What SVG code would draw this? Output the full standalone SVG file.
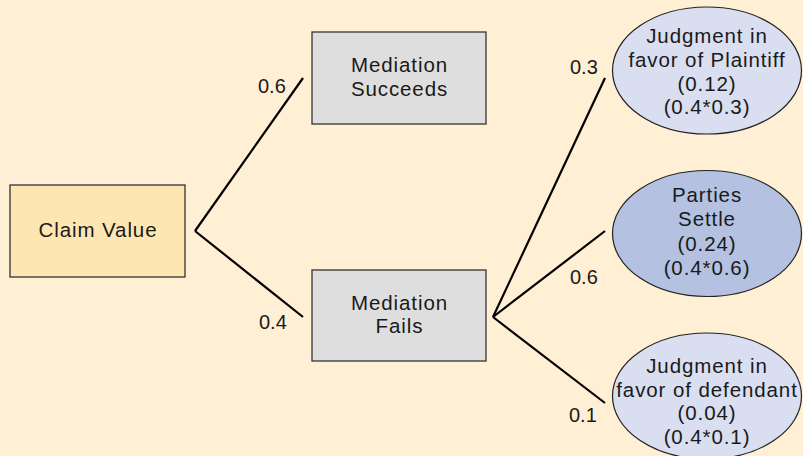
<svg xmlns="http://www.w3.org/2000/svg" width="803" height="456" viewBox="0 0 803 456">
<style>
.t{font-family:"Liberation Sans",Arial,sans-serif;font-size:20.5px;fill:#1a1a1a;letter-spacing:0.9px;text-anchor:middle}
.lbl{font-family:"Liberation Sans",Arial,sans-serif;font-size:20px;fill:#1a1a1a}
.box{stroke:#333;stroke-width:1.3}
.ell{stroke:#222;stroke-width:1.2}
.con line{stroke:#000;stroke-width:2.2;fill:none}
</style>
<rect width="803" height="456" fill="#FEEFD5"/>
<g id="connectors" class="con">
<line x1="195" y1="231" x2="303" y2="78"/>
<line x1="195" y1="231" x2="303" y2="317"/>
<line x1="493" y1="317" x2="605" y2="78"/>
<line x1="493" y1="317" x2="605" y2="231"/>
<line x1="493" y1="317" x2="605" y2="403"/>
</g>
<g id="labels">
<text class="lbl" x="258" y="93">0.6</text>
<text class="lbl" x="259" y="329">0.4</text>
<text class="lbl" x="570" y="74">0.3</text>
<text class="lbl" x="570" y="284">0.6</text>
<text class="lbl" x="569" y="422">0.1</text>
</g>
<g id="claim">
<rect class="box" x="10" y="185" width="175" height="92" fill="#FDE6B2"/>
<text class="t" x="98" y="237">Claim Value</text>
</g>
<g id="succeeds">
<rect class="box" x="312" y="32" width="174" height="92" fill="#DEDEDE"/>
<text class="t" x="399.5" y="72">Mediation</text>
<text class="t" x="399.5" y="96">Succeeds</text>
</g>
<g id="fails">
<rect class="box" x="312" y="270" width="174" height="91" fill="#DEDEDE"/>
<text class="t" x="399.5" y="310">Mediation</text>
<text class="t" x="399.5" y="333">Fails</text>
</g>
<g id="plaintiff">
<ellipse class="ell" cx="707" cy="70.5" rx="94.5" ry="63.5" fill="#D9DEF0"/>
<text class="t" x="707" y="43">Judgment in</text>
<text class="t" x="707" y="66.5">favor of Plaintiff</text>
<text class="t" x="707" y="90.5">(0.12)</text>
<text class="t" x="707" y="114">(0.4*0.3)</text>
</g>
<g id="settle">
<ellipse class="ell" cx="707" cy="233.5" rx="94.5" ry="63" fill="#B4C1E1"/>
<text class="t" x="707" y="202">Parties</text>
<text class="t" x="707" y="226">Settle</text>
<text class="t" x="707" y="250.5">(0.24)</text>
<text class="t" x="707" y="274.5">(0.4*0.6)</text>
</g>
<g id="defendant">
<ellipse class="ell" cx="707" cy="396" rx="94.5" ry="63" fill="#D9DEF0"/>
<text class="t" x="707" y="373">Judgment in</text>
<text class="t" x="707" y="396.5">favor of defendant</text>
<text class="t" x="707" y="420">(0.04)</text>
<text class="t" x="707" y="443.5">(0.4*0.1)</text>
</g>
</svg>
